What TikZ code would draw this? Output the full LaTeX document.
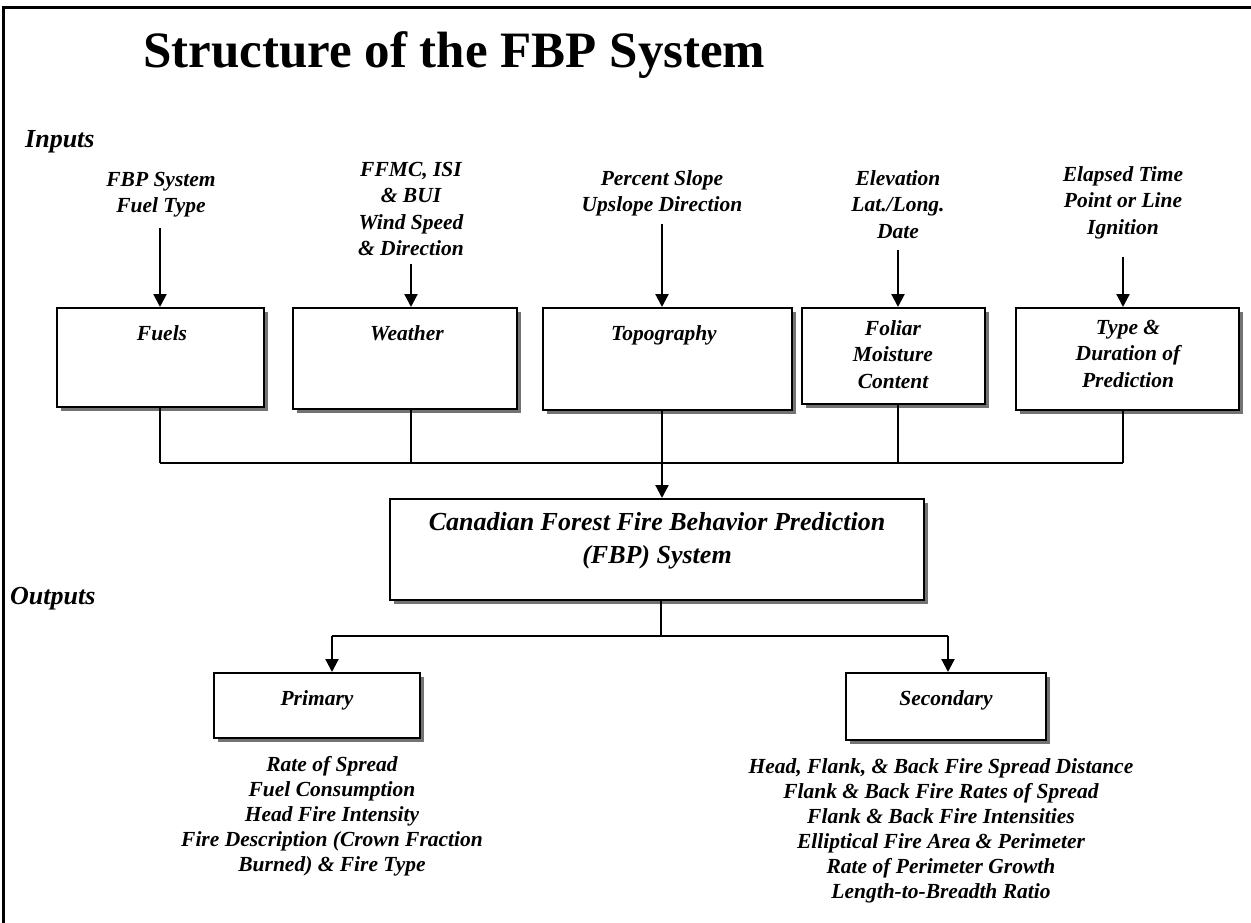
\documentclass[tikz,border=0pt]{standalone}
\usepackage{fontspec}
\setmainfont{Liberation Serif}
\usetikzlibrary{arrows.meta,shadows}
\begin{document}
\begin{tikzpicture}[x=1pt,y=-1pt,
  lbl/.style={font=\fontsize{21.5}{26.5}\selectfont\bfseries\itshape, align=center, inner sep=0pt, anchor=north},
  lst/.style={font=\fontsize{21.5}{25}\selectfont\bfseries\itshape, align=center, inner sep=0pt, anchor=north},
  bigl/.style={font=\fontsize{26}{33}\selectfont\bfseries\itshape, align=center, inner sep=0pt, anchor=north},
  head/.style={font=\fontsize{26}{30}\selectfont\bfseries\itshape, inner sep=0pt, anchor=base west},
  bx/.style={draw=black, line width=2pt, fill=white, inner sep=0pt,
    drop shadow={shadow xshift=3.5pt, shadow yshift=-3.5pt, fill=black!55, opacity=1}},
  arr/.style={line width=2.2pt, -{Triangle[width=13pt,length=13pt]}},
  ln/.style={line width=1.8pt}]
\useasboundingbox (0,0) rectangle (1251,923);
% frame
\draw[line width=3pt] (3,923) -- (3,8) -- (1251,8);
% title and headings
\node[anchor=base west, inner sep=0pt, font=\fontsize{51}{60}\selectfont\bfseries] (title) at (143,68) {Structure of the FBP System};
\node[head] (inputs) at (25,148) {Inputs};
\node[head] (outputs) at (10,604) {Outputs};
% input boxes
\node[bx, minimum width=207pt, minimum height=99pt] (fuels) at (160.5,357.5) {};
\node[bx, minimum width=224pt, minimum height=101pt] (weather) at (405,358.5) {};
\node[bx, minimum width=249pt, minimum height=102pt] (topo) at (667.5,359) {};
\node[bx, minimum width=183pt, minimum height=96pt] (foliar) at (893.5,356) {};
\node[bx, minimum width=223pt, minimum height=102pt] (type) at (1127.5,359) {};
\node[lbl] (fuelsT) at (162,325) {Fuels};
\node[lbl] (weatherT) at (407,325) {Weather};
\node[lbl] (topoT) at (664,325) {Topography};
\node[lbl] (foliarT) at (893,320) {Foliar\\Moisture\\Content};
\node[lbl] (typeT) at (1128,320) {Type \&\\Duration of\\Prediction};
% input labels
\node[lbl] (in1) at (161,172) {FBP System\\Fuel Type};
\node[lbl] (in2) at (411,162) {FFMC, ISI\\\& BUI\\Wind Speed\\\& Direction};
\node[lbl] (in3) at (662,170) {Percent Slope\\Upslope Direction};
\node[lbl] (in4) at (898,170) {Elevation\\Lat./Long.\\Date};
\node[lbl] (in5) at (1123,166) {Elapsed Time\\Point or Line\\Ignition};
% input arrows
\coordinate (a1) at (160,228);
\coordinate (a2) at (411,264);
\coordinate (a3) at (662,224);
\coordinate (a4) at (898,250);
\coordinate (a5) at (1123,257);
\draw[arr] (a1) -- (a1 |- fuels.north);
\draw[arr] (a2) -- (a2 |- weather.north);
\draw[arr] (a3) -- (a3 |- topo.north);
\draw[arr] (a4) -- (a4 |- foliar.north);
\draw[arr] (a5) -- (a5 |- type.north);
% collector
\coordinate (j1) at (160,463);
\coordinate (j2) at (411,463);
\coordinate (j3) at (662,463);
\coordinate (j4) at (898,463);
\coordinate (j5) at (1123,463);
\draw[ln] (j1 |- fuels.south) -- (j1);
\draw[ln] (j2 |- weather.south) -- (j2);
\draw[ln] (j3 |- topo.south) -- (j3);
\draw[ln] (j4 |- foliar.south) -- (j4);
\draw[ln] (j5 |- type.south) -- (j5);
\draw[ln] (j1) -- (j5);
% main box
\node[bx, minimum width=534pt, minimum height=101pt] (main) at (657,549.5) {};
\node[bigl] (mainT) at (657,512) {Canadian Forest Fire Behavior Prediction\\(FBP) System};
\draw[arr] (j3) -- (j3 |- main.north);
% outputs
\node[bx, minimum width=206pt, minimum height=65pt] (primary) at (317,705.5) {};
\node[bx, minimum width=200pt, minimum height=67pt] (secondary) at (946,706.5) {};
\node[lbl] (primaryT) at (317,690) {Primary};
\node[lbl] (secondaryT) at (946,690) {Secondary};
\coordinate (o0) at (661,636);
\coordinate (op) at (332,636);
\coordinate (os) at (948,636);
\draw[ln] (o0 |- main.south) -- (o0);
\draw[ln] (op) -- (os);
\draw[arr] (op) -- (op |- primary.north);
\draw[arr] (os) -- (os |- secondary.north);
% output lists
\node[lst] (plist) at (332,756) {Rate of Spread\\Fuel Consumption\\Head Fire Intensity\\Fire Description (Crown Fraction\\Burned) \& Fire Type};
\node[lst] (slist) at (941,758) {Head, Flank, \& Back Fire Spread Distance\\Flank \& Back Fire Rates of Spread\\Flank \& Back Fire Intensities\\Elliptical Fire Area \& Perimeter\\Rate of Perimeter Growth\\Length-to-Breadth Ratio};
\end{tikzpicture}
\end{document}
